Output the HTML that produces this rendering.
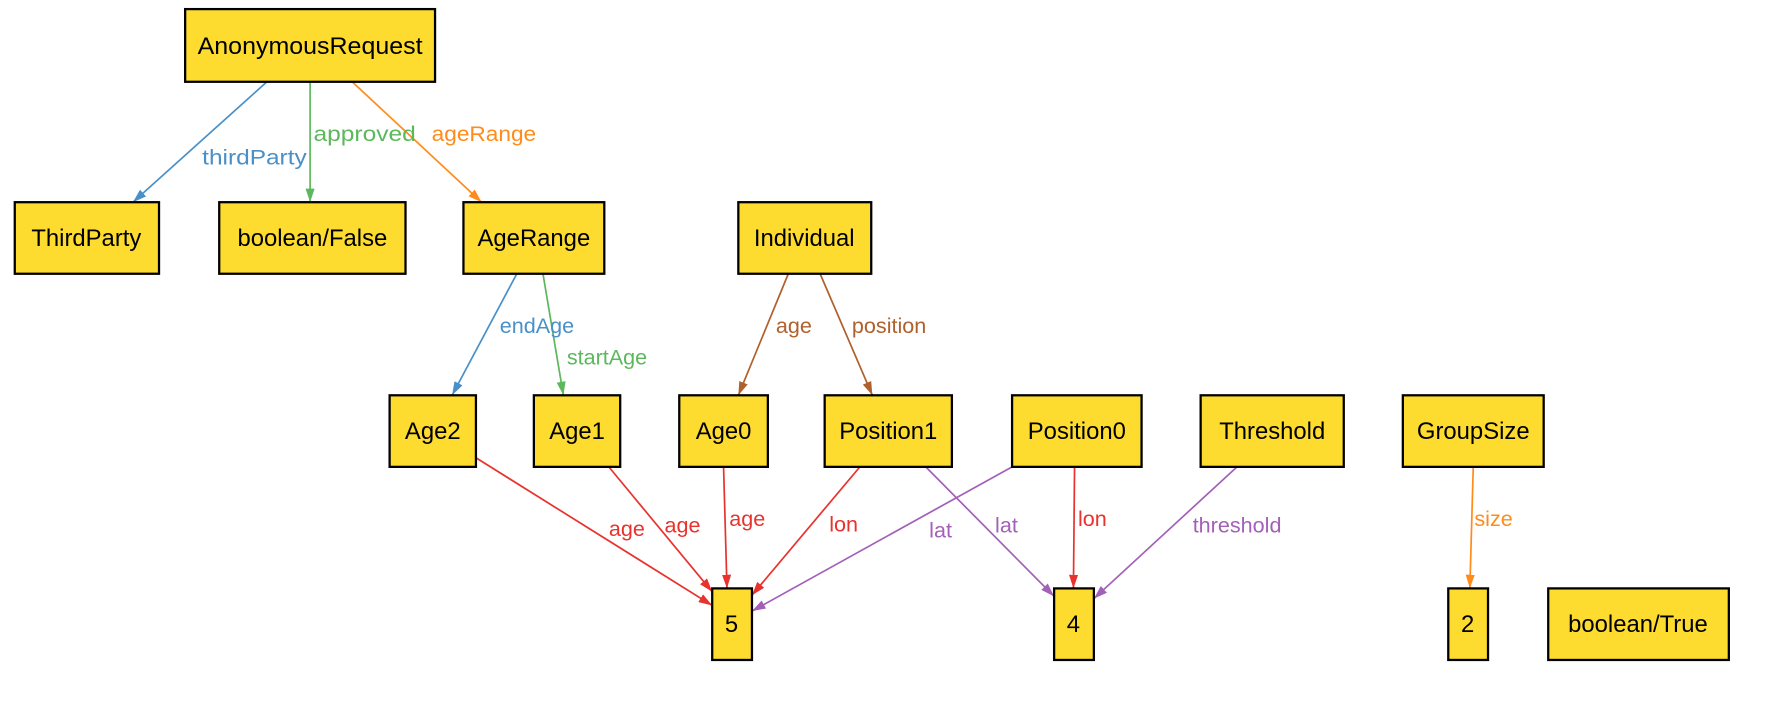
<!DOCTYPE html>
<html><head><meta charset="utf-8"><style>
html,body{margin:0;padding:0;background:#fff;width:1772px;height:702px;overflow:hidden}
svg{display:block}
.n{fill:#FDDB2F;stroke:#000;stroke-width:2}
.t{font-family:"Liberation Sans",sans-serif;font-size:21px;fill:#000;text-anchor:middle;dominant-baseline:central}
.l{font-family:"Liberation Sans",sans-serif;font-size:19px}
</style></head><body>
<svg width="1772" height="702" viewBox="0 0 1560 618" xmlns="http://www.w3.org/2000/svg">
<defs>
<marker id="mb" viewBox="0 0 12 8" refX="12" refY="4" markerWidth="12" markerHeight="8" markerUnits="userSpaceOnUse" orient="auto"><path d="M0,0L12,4L0,8Z" fill="#4a90c8"/></marker>
<marker id="mg" viewBox="0 0 12 8" refX="12" refY="4" markerWidth="12" markerHeight="8" markerUnits="userSpaceOnUse" orient="auto"><path d="M0,0L12,4L0,8Z" fill="#5cb85c"/></marker>
<marker id="mo" viewBox="0 0 12 8" refX="12" refY="4" markerWidth="12" markerHeight="8" markerUnits="userSpaceOnUse" orient="auto"><path d="M0,0L12,4L0,8Z" fill="#ff8c1a"/></marker>
<marker id="mn" viewBox="0 0 12 8" refX="12" refY="4" markerWidth="12" markerHeight="8" markerUnits="userSpaceOnUse" orient="auto"><path d="M0,0L12,4L0,8Z" fill="#b0602c"/></marker>
<marker id="mr" viewBox="0 0 12 8" refX="12" refY="4" markerWidth="12" markerHeight="8" markerUnits="userSpaceOnUse" orient="auto"><path d="M0,0L12,4L0,8Z" fill="#e8322d"/></marker>
<marker id="mp" viewBox="0 0 12 8" refX="12" refY="4" markerWidth="12" markerHeight="8" markerUnits="userSpaceOnUse" orient="auto"><path d="M0,0L12,4L0,8Z" fill="#a360b8"/></marker>
</defs>
<g stroke-width="1.5" fill="none">
<line x1="235" y1="72" x2="117" y2="178" stroke="#4a90c8" marker-end="url(#mb)"/>
<line x1="273" y1="72" x2="273" y2="178" stroke="#5cb85c" marker-end="url(#mg)"/>
<line x1="310" y1="72" x2="424" y2="178" stroke="#ff8c1a" marker-end="url(#mo)"/>
<line x1="455" y1="241" x2="398" y2="348" stroke="#4a90c8" marker-end="url(#mb)"/>
<line x1="478" y1="241" x2="496" y2="348" stroke="#5cb85c" marker-end="url(#mg)"/>
<line x1="694" y1="241" x2="650" y2="348" stroke="#b0602c" marker-end="url(#mn)"/>
<line x1="722" y1="241" x2="768" y2="348" stroke="#b0602c" marker-end="url(#mn)"/>
<line x1="419" y1="403" x2="627" y2="533" stroke="#e8322d" marker-end="url(#mr)"/>
<line x1="536" y1="411" x2="627" y2="521" stroke="#e8322d" marker-end="url(#mr)"/>
<line x1="637" y1="411" x2="640" y2="518" stroke="#e8322d" marker-end="url(#mr)"/>
<line x1="757" y1="411" x2="662" y2="524" stroke="#e8322d" marker-end="url(#mr)"/>
<line x1="891" y1="411" x2="662" y2="538" stroke="#a360b8" marker-end="url(#mp)"/>
<line x1="815" y1="411" x2="928" y2="525" stroke="#a360b8" marker-end="url(#mp)"/>
<line x1="946" y1="411" x2="945" y2="518" stroke="#e8322d" marker-end="url(#mr)"/>
<line x1="1089" y1="411" x2="963" y2="527" stroke="#a360b8" marker-end="url(#mp)"/>
<line x1="1297" y1="411" x2="1294" y2="518" stroke="#ff8c1a" marker-end="url(#mo)"/>
</g>
<g class="l">
<text x="178" y="145" fill="#4a90c8" textLength="92" lengthAdjust="spacingAndGlyphs">thirdParty</text>
<text x="276" y="124" fill="#5cb85c" textLength="90" lengthAdjust="spacingAndGlyphs">approved</text>
<text x="380" y="124" fill="#ff8c1a" textLength="92" lengthAdjust="spacingAndGlyphs">ageRange</text>
<text x="440" y="293" fill="#4a90c8">endAge</text>
<text x="499" y="321" fill="#5cb85c">startAge</text>
<text x="683" y="293" fill="#b0602c">age</text>
<text x="750" y="293" fill="#b0602c">position</text>
<text x="536" y="472" fill="#e8322d">age</text>
<text x="585" y="469" fill="#e8322d">age</text>
<text x="642" y="463" fill="#e8322d">age</text>
<text x="730" y="468" fill="#e8322d">lon</text>
<text x="818" y="473" fill="#a360b8">lat</text>
<text x="876" y="469" fill="#a360b8">lat</text>
<text x="949" y="463" fill="#e8322d">lon</text>
<text x="1050" y="469" fill="#a360b8">threshold</text>
<text x="1298" y="463" fill="#ff8c1a">size</text>
</g>
<g>
<rect class="n" x="163" y="8" width="220" height="64"/><text class="t" x="273" y="41" textLength="198" lengthAdjust="spacingAndGlyphs">AnonymousRequest</text>
<rect class="n" x="13" y="178" width="127" height="63"/><text class="t" x="76" y="210">ThirdParty</text>
<rect class="n" x="193" y="178" width="164" height="63"/><text class="t" x="275" y="210">boolean/False</text>
<rect class="n" x="408" y="178" width="124" height="63"/><text class="t" x="470" y="210">AgeRange</text>
<rect class="n" x="650" y="178" width="117" height="63"/><text class="t" x="708" y="210">Individual</text>
<rect class="n" x="343" y="348" width="76" height="63"/><text class="t" x="381" y="380">Age2</text>
<rect class="n" x="470" y="348" width="76" height="63"/><text class="t" x="508" y="380">Age1</text>
<rect class="n" x="598" y="348" width="78" height="63"/><text class="t" x="637" y="380">Age0</text>
<rect class="n" x="726" y="348" width="112" height="63"/><text class="t" x="782" y="380">Position1</text>
<rect class="n" x="891" y="348" width="114" height="63"/><text class="t" x="948" y="380">Position0</text>
<rect class="n" x="1057" y="348" width="126" height="63"/><text class="t" x="1120" y="380">Threshold</text>
<rect class="n" x="1235" y="348" width="124" height="63"/><text class="t" x="1297" y="380">GroupSize</text>
<rect class="n" x="627" y="518" width="35" height="63"/><text class="t" x="644" y="550">5</text>
<rect class="n" x="928" y="518" width="35" height="63"/><text class="t" x="945" y="550">4</text>
<rect class="n" x="1275" y="518" width="35" height="63"/><text class="t" x="1292" y="550">2</text>
<rect class="n" x="1363" y="518" width="159" height="63"/><text class="t" x="1442" y="550">boolean/True</text>
</g>
</svg>
</body></html>
